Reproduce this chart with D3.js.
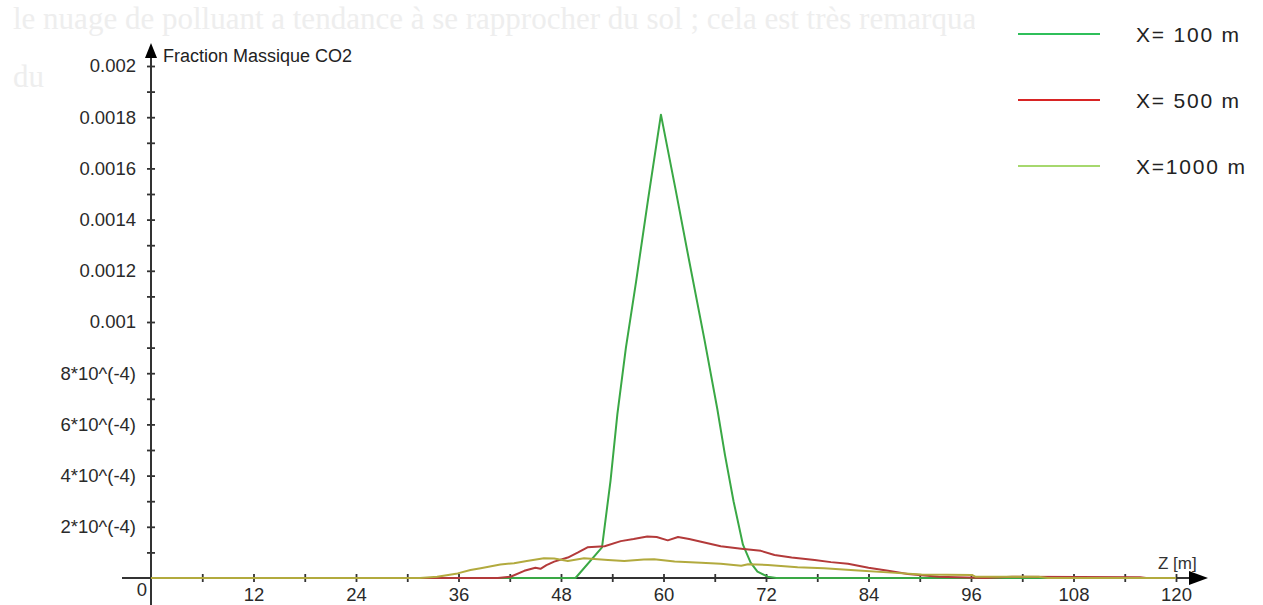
<!DOCTYPE html>
<html>
<head>
<meta charset="utf-8">
<script src="https://cdn.jsdelivr.net/npm/d3@7"></script>
<style>
  html, body { margin: 0; padding: 0; background: #fff; }
  svg { display: block; }
</style>
</head>
<body>
<svg id="chart" width="1263" height="605"></svg>
<script>
// Profils verticaux de fraction massique de CO2 à trois distances de la source
const seriesNames = ["X= 100 m", "X= 500 m", "X=1000 m"];

// Z [m] et fraction massique, X = 100 m
const zX100 = [0, 40.8, 49.7, 52.8, 53.8, 54.6, 55.6, 56.8, 58.2, 59.7, 61.4, 63.0, 64.8, 66.3, 67.2, 68.2, 69.3, 70.2, 71.0, 72.2, 73.2, 120];
const cX100 = [0, 0, 0, 1.2e-4, 3.8e-4, 6.4e-4, 9.0e-4, 1.16e-3, 1.48e-3, 1.81e-3, 1.52e-3, 1.24e-3, 9.3e-4, 6.6e-4, 4.8e-4, 3.0e-4, 1.3e-4, 6e-5, 2.5e-5, 5e-6, 0, 0];

// X = 500 m
const zX500 = [0, 31.5, 40.6, 42.1, 43.7, 45.0, 45.6, 46.3, 47.2, 48.8, 50.0, 51.1, 53.1, 55.0, 56.5, 58.1, 59.2, 60.5, 61.7, 63.0, 64.4, 66.7, 69.1, 71.4, 73.0, 75.0, 77.7, 79.6, 81.6, 84.0, 86.3, 88.6, 92.2, 97.6, 100.8, 115.8, 116.5, 120];
const cX500 = [0, 0, 0, 5e-6, 2.8e-5, 4.0e-5, 3.6e-5, 5.0e-5, 6.4e-5, 8.0e-5, 1.0e-4, 1.2e-4, 1.24e-4, 1.44e-4, 1.52e-4, 1.62e-4, 1.6e-4, 1.47e-4, 1.6e-4, 1.52e-4, 1.42e-4, 1.24e-4, 1.14e-4, 1.06e-4, 9.0e-5, 8.0e-5, 7.0e-5, 6.2e-5, 5.6e-5, 4.0e-5, 2.8e-5, 1.6e-5, 5e-6, 0, 5e-6, 3e-6, 0, 0];

// X = 1000 m
const zX1000 = [0, 31.5, 33.5, 35.9, 37.4, 38.6, 40.9, 42.5, 44.0, 46.0, 47.2, 48.8, 50.7, 53.5, 55.4, 57.7, 58.9, 61.3, 64.4, 66.7, 69.1, 69.9, 72.2, 75.7, 78.8, 82.8, 86.7, 90.2, 96.1, 96.5, 103.9, 105, 120];
const cX1000 = [0, 0, 5e-6, 1.8e-5, 3.1e-5, 3.8e-5, 5.3e-5, 5.8e-5, 6.6e-5, 7.7e-5, 7.6e-5, 6.6e-5, 7.7e-5, 7.0e-5, 6.6e-5, 7.2e-5, 7.3e-5, 6.4e-5, 6.0e-5, 5.6e-5, 4.8e-5, 5.4e-5, 5.1e-5, 4.2e-5, 3.8e-5, 2.9e-5, 2.1e-5, 1.4e-5, 1.2e-5, 5e-6, 5e-6, 0, 0];

// Graduations
const xTickValues = [6, 12, 18, 24, 30, 36, 42, 48, 54, 60, 66, 72, 78, 84, 90, 96, 102, 108, 114, 120];
const xTickLabels = ["", "12", "", "24", "", "36", "", "48", "", "60", "", "72", "", "84", "", "96", "", "108", "", "120"];
const yTickValues = [1e-4, 2e-4, 3e-4, 4e-4, 5e-4, 6e-4, 7e-4, 8e-4, 9e-4, 1e-3, 1.1e-3, 1.2e-3, 1.3e-3, 1.4e-3, 1.5e-3, 1.6e-3, 1.7e-3, 1.8e-3, 1.9e-3, 2e-3];
const yTickLabels = ["", "2*10^(-4)", "", "4*10^(-4)", "", "6*10^(-4)", "", "8*10^(-4)", "", "0.001", "", "0.0012", "", "0.0014", "", "0.0016", "", "0.0018", "", "0.002"];

const svg = d3.select("#chart");
const W = 1263, H = 605;

// texte du document en arrière-plan, très pâle
const bg = svg.append("g").attr("font-family", "'Liberation Serif', 'Times New Roman', serif")
  .attr("font-size", 31).attr("fill", "#eeeeee");
bg.append("text").attr("x", 13).attr("y", 29)
  .text("le nuage de polluant a tendance à se rapprocher du sol ; cela est très remarquable à partir");
bg.append("text").attr("x", 13).attr("y", 87).text("du");
svg.append("rect").attr("x", 975).attr("y", 0).attr("width", W - 975).attr("height", 200).attr("fill", "#fff");

const x = d3.scaleLinear().domain([0, 120]).range([151, 1176]);
const y = d3.scaleLinear().domain([0, 0.002]).range([578, 66]);

const axisColor = "#333";
const font = "'Liberation Sans', Arial, sans-serif";

// axes
const gx = svg.append("g").attr("transform", `translate(0,${y(0)})`)
  .call(d3.axisBottom(x).tickValues(xTickValues)
    .tickFormat((d, i) => xTickLabels[i]).tickSize(4).tickPadding(6));
gx.select(".domain").remove();
gx.selectAll(".tick line").attr("y1", -4).attr("y2", 4).attr("stroke", axisColor).attr("stroke-width", 1.8);
gx.selectAll(".tick text").attr("y", 23).attr("dy", null)
  .attr("font-family", font).attr("font-size", 18.5).attr("fill", "#2a2a2a");

const gy = svg.append("g").attr("transform", `translate(${x(0)},0)`)
  .call(d3.axisLeft(y).tickValues(yTickValues)
    .tickFormat((d, i) => yTickLabels[i]).tickSize(4).tickPadding(11));
gy.select(".domain").remove();
gy.selectAll(".tick line").attr("x1", -4).attr("x2", 4).attr("stroke", axisColor).attr("stroke-width", 1.8);
gy.selectAll(".tick text").attr("font-family", font).attr("font-size", 18.5).attr("fill", "#2a2a2a");

// lignes d'axe et flèches
svg.append("line").attr("x1", 122).attr("x2", 1192).attr("y1", y(0)).attr("y2", y(0))
  .attr("stroke", axisColor).attr("stroke-width", 2);
svg.append("line").attr("x1", x(0)).attr("x2", x(0)).attr("y1", 56).attr("y2", 605)
  .attr("stroke", axisColor).attr("stroke-width", 2);
svg.append("path").attr("d", `M${x(0)},43 L${x(0) - 6},58 L${x(0) + 6},58 Z`).attr("fill", "#000");
svg.append("path").attr("d", `M1208,${y(0)} L1189,${y(0) - 7} L1189,${y(0) + 7} Z`).attr("fill", "#000");

svg.append("text").attr("x", 142).attr("y", 596).attr("text-anchor", "middle")
  .attr("font-family", font).attr("font-size", 18.5).attr("fill", "#2a2a2a").text("0");
svg.append("text").attr("x", 163).attr("y", 62)
  .attr("font-family", font).attr("font-size", 18).attr("fill", "#222").text("Fraction Massique CO2");
svg.append("text").attr("x", 1158).attr("y", 569)
  .attr("font-family", font).attr("font-size", 17).attr("fill", "#333").text("Z [m]");

// courbes
const series = [
  { z: zX100, c: cX100, color: "#3aa845", legend: "#2fbf5a" },
  { z: zX500, c: cX500, color: "#b33a3a", legend: "#d82424" },
  { z: zX1000, c: cX1000, color: "#b2aa3e", legend: "#a6d86e" }
];
const line = d3.line().x(d => x(d[0])).y(d => y(d[1]));
series.forEach(s => {
  svg.append("path").datum(d3.zip(s.z, s.c)).attr("d", line)
    .attr("fill", "none").attr("stroke", s.color).attr("stroke-width", 2)
    .attr("stroke-linejoin", "round");
});

// légende
const legendY = [34, 100, 166];
series.forEach((s, i) => {
  const g = svg.append("g").attr("transform", `translate(0,${legendY[i]})`);
  g.append("line").attr("x1", 1018).attr("x2", 1100).attr("stroke", s.legend).attr("stroke-width", 2);
  g.append("text").attr("x", 1136).attr("dy", "0.36em")
    .attr("font-family", font).attr("font-size", 21).attr("letter-spacing", 1.8)
    .attr("fill", "#222").text(seriesNames[i]);
});
</script>
</body>
</html>
